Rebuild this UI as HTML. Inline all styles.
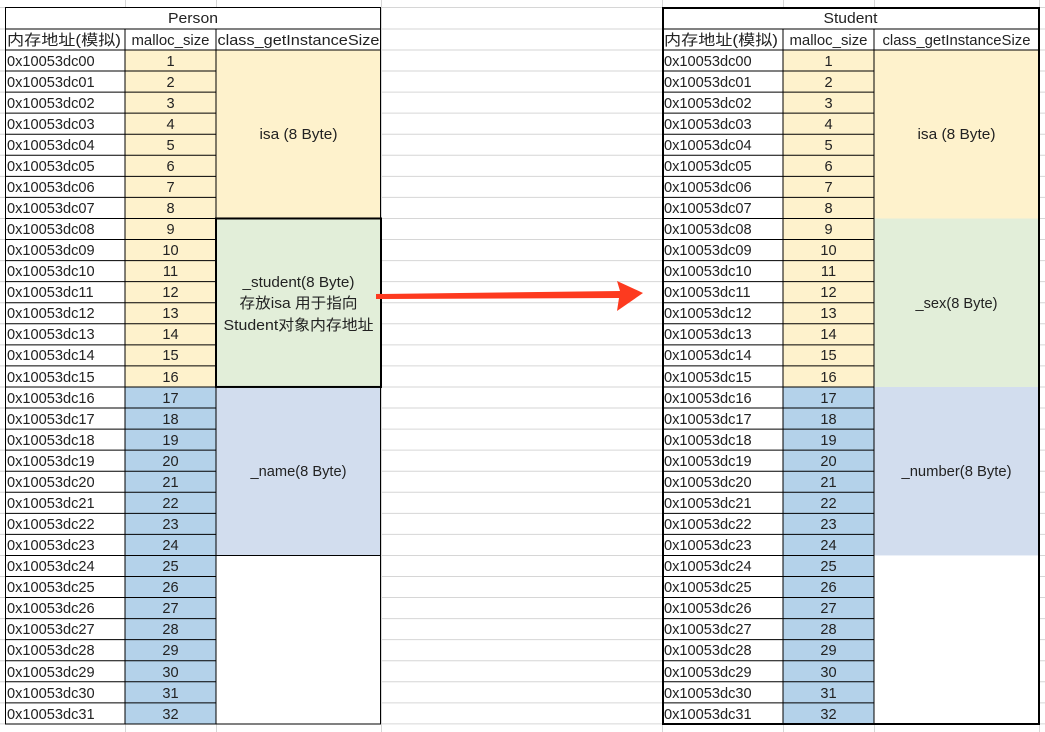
<!DOCTYPE html>
<html><head><meta charset="utf-8"><style>
html,body{margin:0;padding:0;background:#fff;}
svg{display:block;}
text{font-family:"Liberation Sans","Noto Sans CJK SC",sans-serif;font-size:14.6px;fill:#222;}
.c{text-anchor:middle;}
</style></head><body>
<svg width="1045" height="732" viewBox="0 0 1045 732" xmlns="http://www.w3.org/2000/svg">
<g stroke="#d6d6d6" stroke-width="1">
<line x1="0" y1="7.5" x2="1045" y2="7.5"/>
<line x1="0" y1="29" x2="1045" y2="29"/>
<line x1="0" y1="50" x2="1045" y2="50"/><line x1="0" y1="71.06" x2="1045" y2="71.06"/><line x1="0" y1="92.12" x2="1045" y2="92.12"/><line x1="0" y1="113.18" x2="1045" y2="113.18"/><line x1="0" y1="134.24" x2="1045" y2="134.24"/><line x1="0" y1="155.3" x2="1045" y2="155.3"/><line x1="0" y1="176.36" x2="1045" y2="176.36"/><line x1="0" y1="197.42" x2="1045" y2="197.42"/><line x1="0" y1="218.48" x2="1045" y2="218.48"/><line x1="0" y1="239.54" x2="1045" y2="239.54"/><line x1="0" y1="260.6" x2="1045" y2="260.6"/><line x1="0" y1="281.66" x2="1045" y2="281.66"/><line x1="0" y1="302.72" x2="1045" y2="302.72"/><line x1="0" y1="323.78" x2="1045" y2="323.78"/><line x1="0" y1="344.84" x2="1045" y2="344.84"/><line x1="0" y1="365.9" x2="1045" y2="365.9"/><line x1="0" y1="386.96" x2="1045" y2="386.96"/><line x1="0" y1="408.02" x2="1045" y2="408.02"/><line x1="0" y1="429.08" x2="1045" y2="429.08"/><line x1="0" y1="450.14" x2="1045" y2="450.14"/><line x1="0" y1="471.2" x2="1045" y2="471.2"/><line x1="0" y1="492.26" x2="1045" y2="492.26"/><line x1="0" y1="513.32" x2="1045" y2="513.32"/><line x1="0" y1="534.38" x2="1045" y2="534.38"/><line x1="0" y1="555.44" x2="1045" y2="555.44"/><line x1="0" y1="576.5" x2="1045" y2="576.5"/><line x1="0" y1="597.56" x2="1045" y2="597.56"/><line x1="0" y1="618.62" x2="1045" y2="618.62"/><line x1="0" y1="639.68" x2="1045" y2="639.68"/><line x1="0" y1="660.74" x2="1045" y2="660.74"/><line x1="0" y1="681.8" x2="1045" y2="681.8"/><line x1="0" y1="702.86" x2="1045" y2="702.86"/><line x1="0" y1="723.92" x2="1045" y2="723.92"/>
<line x1="125.5" y1="0" x2="125.5" y2="732"/><line x1="216.5" y1="0" x2="216.5" y2="732"/><line x1="381.5" y1="0" x2="381.5" y2="732"/><line x1="662.5" y1="0" x2="662.5" y2="732"/><line x1="783.5" y1="0" x2="783.5" y2="732"/><line x1="874.5" y1="0" x2="874.5" y2="732"/><line x1="1039.5" y1="0" x2="1039.5" y2="732"/>
</g>

<g>
<rect x="5" y="7" width="376" height="717" fill="#fff"/>
<rect x="125" y="50" width="91" height="336.96" fill="#fef2cc"/>
<rect x="125" y="386.96" width="91" height="336.96" fill="#b4d2ea"/>
<rect x="216" y="50" width="165" height="168.48" fill="#fef2cc"/>
<rect x="216" y="218.48" width="165" height="168.48" fill="#e2eed9"/>
<rect x="216" y="386.96" width="165" height="168.48" fill="#d2ddee"/>
<g stroke="#000" stroke-width="1">
<line x1="5" y1="29" x2="381" y2="29"/>
<line x1="5" y1="50" x2="381" y2="50"/>
<line x1="5" y1="71.06" x2="216" y2="71.06"/><line x1="5" y1="92.12" x2="216" y2="92.12"/><line x1="5" y1="113.18" x2="216" y2="113.18"/><line x1="5" y1="134.24" x2="216" y2="134.24"/><line x1="5" y1="155.3" x2="216" y2="155.3"/><line x1="5" y1="176.36" x2="216" y2="176.36"/><line x1="5" y1="197.42" x2="216" y2="197.42"/><line x1="5" y1="218.48" x2="381" y2="218.48"/><line x1="5" y1="239.54" x2="216" y2="239.54"/><line x1="5" y1="260.6" x2="216" y2="260.6"/><line x1="5" y1="281.66" x2="216" y2="281.66"/><line x1="5" y1="302.72" x2="216" y2="302.72"/><line x1="5" y1="323.78" x2="216" y2="323.78"/><line x1="5" y1="344.84" x2="216" y2="344.84"/><line x1="5" y1="365.9" x2="216" y2="365.9"/><line x1="5" y1="386.96" x2="381" y2="386.96"/><line x1="5" y1="408.02" x2="216" y2="408.02"/><line x1="5" y1="429.08" x2="216" y2="429.08"/><line x1="5" y1="450.14" x2="216" y2="450.14"/><line x1="5" y1="471.2" x2="216" y2="471.2"/><line x1="5" y1="492.26" x2="216" y2="492.26"/><line x1="5" y1="513.32" x2="216" y2="513.32"/><line x1="5" y1="534.38" x2="216" y2="534.38"/><line x1="5" y1="555.44" x2="381" y2="555.44"/><line x1="5" y1="576.5" x2="216" y2="576.5"/><line x1="5" y1="597.56" x2="216" y2="597.56"/><line x1="5" y1="618.62" x2="216" y2="618.62"/><line x1="5" y1="639.68" x2="216" y2="639.68"/><line x1="5" y1="660.74" x2="216" y2="660.74"/><line x1="5" y1="681.8" x2="216" y2="681.8"/><line x1="5" y1="702.86" x2="216" y2="702.86"/>
<line x1="125" y1="29" x2="125" y2="724"/><line x1="216" y1="29" x2="216" y2="724"/>
</g>
<rect x="5.5" y="7.5" width="375" height="716.5" fill="none" stroke="#000" stroke-width="1"/>
<rect x="216" y="218.48" width="165" height="168.48" fill="none" stroke="#000" stroke-width="2"/>
<text class="c" x="193" y="23" textLength="50" lengthAdjust="spacingAndGlyphs">Person</text>
<text x="7" y="45" textLength="114" lengthAdjust="spacingAndGlyphs">内存地址(模拟)</text>
<text class="c" x="170.5" y="45" textLength="78" lengthAdjust="spacingAndGlyphs">malloc_size</text>
<text class="c" x="298.5" y="45" textLength="162" lengthAdjust="spacingAndGlyphs">class_getInstanceSize</text>
<text class="c" x="298.5" y="139" textLength="78" lengthAdjust="spacingAndGlyphs">isa (8 Byte)</text>
<text class="c" x="298.5" y="287" textLength="112" lengthAdjust="spacingAndGlyphs">_student(8 Byte)</text>
<text class="c" x="298.5" y="308" textLength="118" lengthAdjust="spacingAndGlyphs">存放isa 用于指向</text>
<text class="c" x="298.5" y="330" textLength="150" lengthAdjust="spacingAndGlyphs">Student对象内存地址</text>
<text class="c" x="298.5" y="476" textLength="96" lengthAdjust="spacingAndGlyphs">_name(8 Byte)</text>
</g>

<g transform="translate(657,0)">
<rect x="5" y="7" width="377" height="717" fill="#fff"/>
<rect x="126" y="50" width="91" height="336.96" fill="#fef2cc"/>
<rect x="126" y="386.96" width="91" height="336.96" fill="#b4d2ea"/>
<rect x="217" y="50" width="165" height="168.48" fill="#fef2cc"/>
<rect x="217" y="218.48" width="165" height="168.48" fill="#e2eed9"/>
<rect x="217" y="386.96" width="165" height="168.48" fill="#d2ddee"/>
<g stroke="#000" stroke-width="1">
<line x1="5" y1="29" x2="382" y2="29"/>
<line x1="5" y1="50" x2="382" y2="50"/>
<line x1="5" y1="71.06" x2="217" y2="71.06"/><line x1="5" y1="92.12" x2="217" y2="92.12"/><line x1="5" y1="113.18" x2="217" y2="113.18"/><line x1="5" y1="134.24" x2="217" y2="134.24"/><line x1="5" y1="155.3" x2="217" y2="155.3"/><line x1="5" y1="176.36" x2="217" y2="176.36"/><line x1="5" y1="197.42" x2="217" y2="197.42"/><line x1="5" y1="218.48" x2="217" y2="218.48"/><line x1="5" y1="239.54" x2="217" y2="239.54"/><line x1="5" y1="260.6" x2="217" y2="260.6"/><line x1="5" y1="281.66" x2="217" y2="281.66"/><line x1="5" y1="302.72" x2="217" y2="302.72"/><line x1="5" y1="323.78" x2="217" y2="323.78"/><line x1="5" y1="344.84" x2="217" y2="344.84"/><line x1="5" y1="365.9" x2="217" y2="365.9"/><line x1="5" y1="386.96" x2="217" y2="386.96"/><line x1="5" y1="408.02" x2="217" y2="408.02"/><line x1="5" y1="429.08" x2="217" y2="429.08"/><line x1="5" y1="450.14" x2="217" y2="450.14"/><line x1="5" y1="471.2" x2="217" y2="471.2"/><line x1="5" y1="492.26" x2="217" y2="492.26"/><line x1="5" y1="513.32" x2="217" y2="513.32"/><line x1="5" y1="534.38" x2="217" y2="534.38"/><line x1="5" y1="555.44" x2="217" y2="555.44"/><line x1="5" y1="576.5" x2="217" y2="576.5"/><line x1="5" y1="597.56" x2="217" y2="597.56"/><line x1="5" y1="618.62" x2="217" y2="618.62"/><line x1="5" y1="639.68" x2="217" y2="639.68"/><line x1="5" y1="660.74" x2="217" y2="660.74"/><line x1="5" y1="681.8" x2="217" y2="681.8"/><line x1="5" y1="702.86" x2="217" y2="702.86"/>
<line x1="126" y1="29" x2="126" y2="724"/><line x1="217" y1="29" x2="217" y2="724"/>
</g>
<rect x="6" y="8" width="376" height="716" fill="none" stroke="#000" stroke-width="2"/>
<text class="c" x="193.5" y="23" textLength="54" lengthAdjust="spacingAndGlyphs">Student</text>
<text x="7" y="45" textLength="114" lengthAdjust="spacingAndGlyphs">内存地址(模拟)</text>
<text class="c" x="171.5" y="45" textLength="78" lengthAdjust="spacingAndGlyphs">malloc_size</text>
<text class="c" x="299.5" y="45" textLength="148" lengthAdjust="spacingAndGlyphs">class_getInstanceSize</text>
<text class="c" x="299.5" y="139" textLength="78" lengthAdjust="spacingAndGlyphs">isa (8 Byte)</text>
<text class="c" x="299.5" y="308" textLength="82" lengthAdjust="spacingAndGlyphs">_sex(8 Byte)</text>
<text class="c" x="299.5" y="476" textLength="110" lengthAdjust="spacingAndGlyphs">_number(8 Byte)</text>
</g>

<g>
<text x="7" y="66">0x10053dc00</text><text class="c" x="170.5" y="66">1</text><text x="664" y="66">0x10053dc00</text><text class="c" x="828.5" y="66">1</text>
<text x="7" y="87">0x10053dc01</text><text class="c" x="170.5" y="87">2</text><text x="664" y="87">0x10053dc01</text><text class="c" x="828.5" y="87">2</text>
<text x="7" y="108">0x10053dc02</text><text class="c" x="170.5" y="108">3</text><text x="664" y="108">0x10053dc02</text><text class="c" x="828.5" y="108">3</text>
<text x="7" y="129">0x10053dc03</text><text class="c" x="170.5" y="129">4</text><text x="664" y="129">0x10053dc03</text><text class="c" x="828.5" y="129">4</text>
<text x="7" y="150">0x10053dc04</text><text class="c" x="170.5" y="150">5</text><text x="664" y="150">0x10053dc04</text><text class="c" x="828.5" y="150">5</text>
<text x="7" y="171">0x10053dc05</text><text class="c" x="170.5" y="171">6</text><text x="664" y="171">0x10053dc05</text><text class="c" x="828.5" y="171">6</text>
<text x="7" y="192">0x10053dc06</text><text class="c" x="170.5" y="192">7</text><text x="664" y="192">0x10053dc06</text><text class="c" x="828.5" y="192">7</text>
<text x="7" y="213">0x10053dc07</text><text class="c" x="170.5" y="213">8</text><text x="664" y="213">0x10053dc07</text><text class="c" x="828.5" y="213">8</text>
<text x="7" y="234">0x10053dc08</text><text class="c" x="170.5" y="234">9</text><text x="664" y="234">0x10053dc08</text><text class="c" x="828.5" y="234">9</text>
<text x="7" y="255">0x10053dc09</text><text class="c" x="170.5" y="255">10</text><text x="664" y="255">0x10053dc09</text><text class="c" x="828.5" y="255">10</text>
<text x="7" y="276">0x10053dc10</text><text class="c" x="170.5" y="276">11</text><text x="664" y="276">0x10053dc10</text><text class="c" x="828.5" y="276">11</text>
<text x="7" y="297">0x10053dc11</text><text class="c" x="170.5" y="297">12</text><text x="664" y="297">0x10053dc11</text><text class="c" x="828.5" y="297">12</text>
<text x="7" y="318">0x10053dc12</text><text class="c" x="170.5" y="318">13</text><text x="664" y="318">0x10053dc12</text><text class="c" x="828.5" y="318">13</text>
<text x="7" y="339">0x10053dc13</text><text class="c" x="170.5" y="339">14</text><text x="664" y="339">0x10053dc13</text><text class="c" x="828.5" y="339">14</text>
<text x="7" y="360">0x10053dc14</text><text class="c" x="170.5" y="360">15</text><text x="664" y="360">0x10053dc14</text><text class="c" x="828.5" y="360">15</text>
<text x="7" y="382">0x10053dc15</text><text class="c" x="170.5" y="382">16</text><text x="664" y="382">0x10053dc15</text><text class="c" x="828.5" y="382">16</text>
<text x="7" y="403">0x10053dc16</text><text class="c" x="170.5" y="403">17</text><text x="664" y="403">0x10053dc16</text><text class="c" x="828.5" y="403">17</text>
<text x="7" y="424">0x10053dc17</text><text class="c" x="170.5" y="424">18</text><text x="664" y="424">0x10053dc17</text><text class="c" x="828.5" y="424">18</text>
<text x="7" y="445">0x10053dc18</text><text class="c" x="170.5" y="445">19</text><text x="664" y="445">0x10053dc18</text><text class="c" x="828.5" y="445">19</text>
<text x="7" y="466">0x10053dc19</text><text class="c" x="170.5" y="466">20</text><text x="664" y="466">0x10053dc19</text><text class="c" x="828.5" y="466">20</text>
<text x="7" y="487">0x10053dc20</text><text class="c" x="170.5" y="487">21</text><text x="664" y="487">0x10053dc20</text><text class="c" x="828.5" y="487">21</text>
<text x="7" y="508">0x10053dc21</text><text class="c" x="170.5" y="508">22</text><text x="664" y="508">0x10053dc21</text><text class="c" x="828.5" y="508">22</text>
<text x="7" y="529">0x10053dc22</text><text class="c" x="170.5" y="529">23</text><text x="664" y="529">0x10053dc22</text><text class="c" x="828.5" y="529">23</text>
<text x="7" y="550">0x10053dc23</text><text class="c" x="170.5" y="550">24</text><text x="664" y="550">0x10053dc23</text><text class="c" x="828.5" y="550">24</text>
<text x="7" y="571">0x10053dc24</text><text class="c" x="170.5" y="571">25</text><text x="664" y="571">0x10053dc24</text><text class="c" x="828.5" y="571">25</text>
<text x="7" y="592">0x10053dc25</text><text class="c" x="170.5" y="592">26</text><text x="664" y="592">0x10053dc25</text><text class="c" x="828.5" y="592">26</text>
<text x="7" y="613">0x10053dc26</text><text class="c" x="170.5" y="613">27</text><text x="664" y="613">0x10053dc26</text><text class="c" x="828.5" y="613">27</text>
<text x="7" y="634">0x10053dc27</text><text class="c" x="170.5" y="634">28</text><text x="664" y="634">0x10053dc27</text><text class="c" x="828.5" y="634">28</text>
<text x="7" y="655">0x10053dc28</text><text class="c" x="170.5" y="655">29</text><text x="664" y="655">0x10053dc28</text><text class="c" x="828.5" y="655">29</text>
<text x="7" y="677">0x10053dc29</text><text class="c" x="170.5" y="677">30</text><text x="664" y="677">0x10053dc29</text><text class="c" x="828.5" y="677">30</text>
<text x="7" y="698">0x10053dc30</text><text class="c" x="170.5" y="698">31</text><text x="664" y="698">0x10053dc30</text><text class="c" x="828.5" y="698">31</text>
<text x="7" y="719">0x10053dc31</text><text class="c" x="170.5" y="719">32</text><text x="664" y="719">0x10053dc31</text><text class="c" x="828.5" y="719">32</text>
</g>

<polygon points="376,294 620,291 617,281 643,293 617,311 619,298 376,299" fill="#fd3a1f"/>
</svg>
</body></html>
